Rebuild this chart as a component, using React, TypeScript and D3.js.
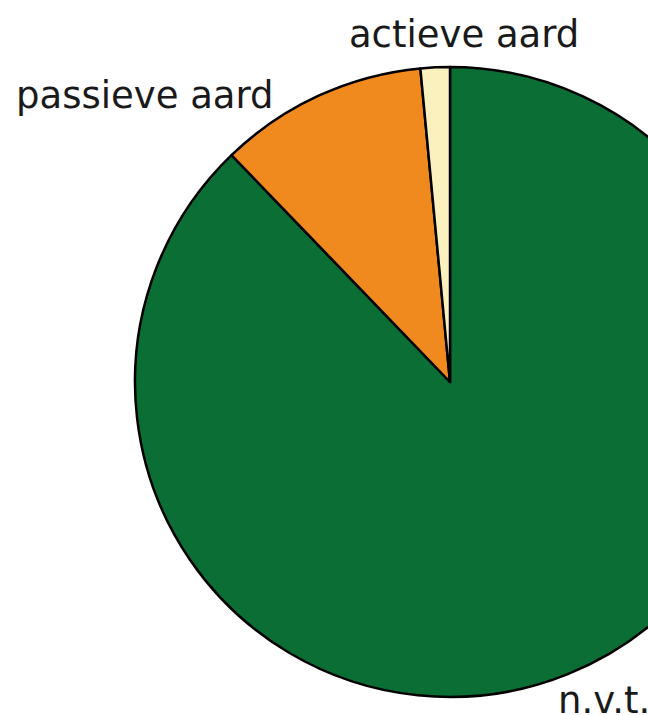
import React from "react";
import * as d3 from "d3";

const categories = ["n.v.t.", "passieve aard", "actieve aard"];
const values = [87.8, 10.7, 1.5];
const colors = ["#0b6e34", "#f08a1e", "#fbf1bf"];

const W = 648;
const H = 715;
const cx = 450;
const cy = 382;
const R = 315;

// label placement: radius factor and pixel nudges per slice
const labelLayout = [
  { r: 1.07, dx: -18, dy: 18, anchor: "start" },
  { r: 1.0, dx: -45, dy: 12, anchor: "end" },
  { r: 1.07, dx: 30, dy: 2, anchor: "middle" },
];

export default function App() {
  const data = categories.map((c, i) => ({ c, v: values[i], color: colors[i] }));
  const pie = d3.pie<any>().sort(null).value((d: any) => d.v);
  const arcs = pie(data);
  const arc = d3.arc<any>().innerRadius(0).outerRadius(R);

  return (
    <svg
      width={W}
      height={H}
      style={{ position: "absolute", left: 0, top: 0, background: "#fff" }}
    >
      <g transform={`translate(${cx},${cy})`}>
        {arcs.map((a, i) => (
          <path
            key={i}
            d={arc(a) as string}
            fill={a.data.color}
            stroke="#000"
            strokeWidth={2.5}
            strokeLinejoin="round"
          />
        ))}
        {arcs.map((a, i) => {
          const mid = (a.startAngle + a.endAngle) / 2;
          const L = labelLayout[i];
          const rr = R * L.r;
          const x = Math.sin(mid) * rr + L.dx;
          const y = -Math.cos(mid) * rr + L.dy;
          return (
            <text
              key={"t" + i}
              x={x}
              y={y}
              textAnchor={L.anchor as any}
              fontFamily="DejaVu Sans, Verdana, sans-serif"
              fontSize={37}
              fill="#1a1a1a"
            >
              {a.data.c}
            </text>
          );
        })}
      </g>
    </svg>
  );
}
